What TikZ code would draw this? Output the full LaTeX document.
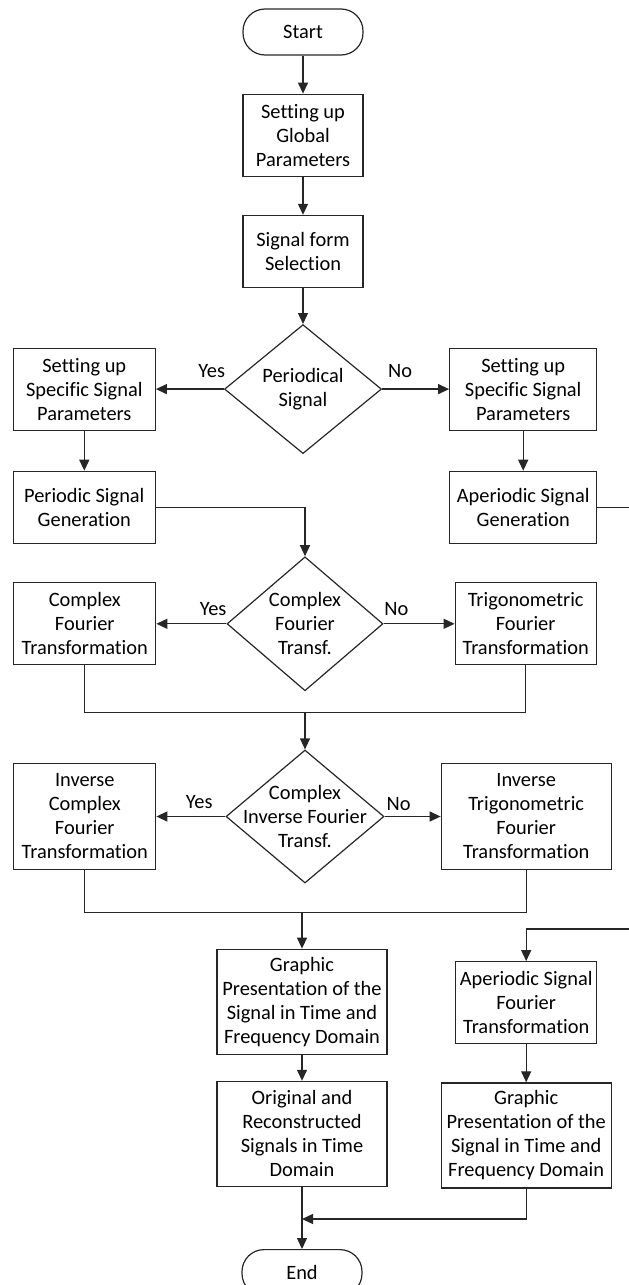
\documentclass[tikz,border=0pt]{standalone}
\usepackage{fontspec}
\setmainfont[Ligatures=NoCommon]{Carlito}
\usepackage{tikz}
\usetikzlibrary{arrows.meta,positioning,calc,shapes.geometric}
\newcommand{\flowfont}{\fontsize{20.4pt}{24pt}\selectfont}
\tikzset{
	procbox/.style={draw=black!85, line width=1.2pt, align=center, inner sep=2pt,
		minimum width=142pt, minimum height=82pt, font=\flowfont},
	termbox/.style={draw=black!85, line width=1.2pt, rounded corners=22pt,
		minimum width=120pt, minimum height=46pt, font=\flowfont},
	decision/.style={diamond, draw=black!85, line width=1.2pt, align=center,
		aspect=1.2, inner sep=-12pt, font=\flowfont},
	arrow/.style={-{Triangle[length=11pt,width=10pt]}, line width=1.3pt, black!85},
	wire/.style={line width=1.3pt, black!85},
	answer/.style={font=\flowfont, text=black}
}

\begin{document}
\begin{tikzpicture}
		\useasboundingbox (0,0) rectangle (629pt,-1285pt);
		
		%% -- main column
		\node[termbox] (start) at (303pt,-32pt) {Start};
		\node[procbox, minimum width=120pt, below=38pt of start] (glob)
		{Setting up\\Global\\Parameters};
		\node[procbox, minimum width=120pt, minimum height=72pt, below=38pt of glob] (sel)
		{Signal form\\Selection};
		\node[decision, minimum width=157pt, minimum height=129pt, below=36pt of sel] (dec1)
		{Periodical\\Signal};
		
		%% -- signal parameters and generation
		\node[procbox, left=68pt of dec1] (lpar)
		{Setting up\\Specific Signal\\Parameters};
		\node[procbox, minimum width=147pt, right=67pt of dec1] (rpar)
		{Setting up\\Specific Signal\\Parameters};
		\node[procbox, minimum height=72pt, below=40pt of lpar] (pgen)
		{Periodic Signal\\Generation};
		\node[procbox, minimum width=147pt, minimum height=72pt, below=40pt of rpar] (agen)
		{Aperiodic Signal\\Generation};
		
		%% -- forward transformation
		\node[decision, minimum width=156pt, minimum height=134pt,
		below=102pt of dec1, xshift=2pt] (dec2)
		{Complex\\Fourier\\Transf.};
		\node[procbox, left=70pt of dec2] (cft)
		{Complex\\Fourier\\Transformation};
		\node[procbox, minimum width=141pt, right=71pt of dec2] (tft)
		{Trigonometric\\Fourier\\Transformation};
		
		%% -- inverse transformation
		\node[decision, minimum width=158pt, minimum height=133pt, below=58pt of dec2] (dec3)
		{Complex\\Inverse Fourier\\Transf.};
		\node[procbox, minimum height=106pt, left=69pt of dec3] (icft)
		{Inverse\\Complex\\Fourier\\Transformation};
		\node[procbox, minimum width=170pt, minimum height=106pt, right=56pt of dec3] (itft)
		{Inverse\\Trigonometric\\Fourier\\Transformation};
		
		%% -- presentation
		\node[procbox, minimum width=170pt, minimum height=105pt,
		below=65pt of dec3, xshift=-3pt] (graph1)
		{Graphic\\Presentation of the\\Signal in Time and\\Frequency Domain};
		\node[procbox, minimum width=170pt, minimum height=105pt, below=26pt of graph1] (orig)
		{Original and\\Reconstructed\\Signals in Time\\Domain};
		\node[termbox, below=62pt of orig] (end) {End};
		
		\node[procbox, minimum width=141pt, below=91pt of itft] (aft)
		{Aperiodic Signal\\Fourier\\Transformation};
		\node[procbox, minimum width=170pt, minimum height=105pt, below=38pt of aft] (graph2)
		{Graphic\\Presentation of the\\Signal in Time and\\Frequency Domain};
		
		%% -- junction points
		\coordinate (m1) at ($(dec2.south)+(0,-21pt)$);
		\coordinate (m2) at ($(graph1.north)+(0,36pt)$);
		\coordinate (m3) at ($(orig.south)+(0,-32pt)$);
		\coordinate (rt) at ($(aft.north)+(109pt,32pt)$);
		
		%% -- main flow arrows
		\draw[arrow] (start) -- (glob);
		\draw[arrow] (glob) -- (sel);
		\draw[arrow] (sel) -- (dec1);
		\draw[arrow] (dec1.west) -- node[answer, pos=0.18, above=7pt] {Yes} (lpar.east);
		\draw[arrow] (dec1.east) -- node[answer, pos=0.27, above=7pt] {No} (rpar.west);
		\draw[arrow] (lpar) -- (pgen);
		\draw[arrow] (rpar) -- (agen);
		\draw[arrow] (pgen.east) -| (dec2.north);
		
		\draw[arrow] (dec2.west) -- node[answer, pos=0.19, above=4pt] {Yes} (cft.east);
		\draw[arrow] (dec2.east) -- node[answer, pos=0.18, above=4pt] {No} (tft.west);
		\draw[wire] (cft.south) |- (m1) -| (tft.south);
		\draw[arrow] (m1) -- (dec3.north);
		
		\draw[arrow] (dec3.west) -- node[answer, pos=0.38, above=4pt] {Yes} (icft.east);
		\draw[arrow] (dec3.east) -- node[answer, pos=0.25, above=2pt] {No} (itft.west);
		\draw[wire] (icft.south) |- (m2) -| (itft.south);
		\draw[arrow] (m2) -- (graph1.north);
		\draw[arrow] (graph1) -- (orig);
		\draw[arrow] (orig.south) -- (end.north);
		
		%% -- aperiodic branch
		\draw[arrow] (agen.east) -| (rt) -| (aft.north);
		\draw[arrow] (aft) -- (graph2);
		\draw[arrow] (graph2.south) |- (m3);
		
	\end{tikzpicture}
\end{document}
